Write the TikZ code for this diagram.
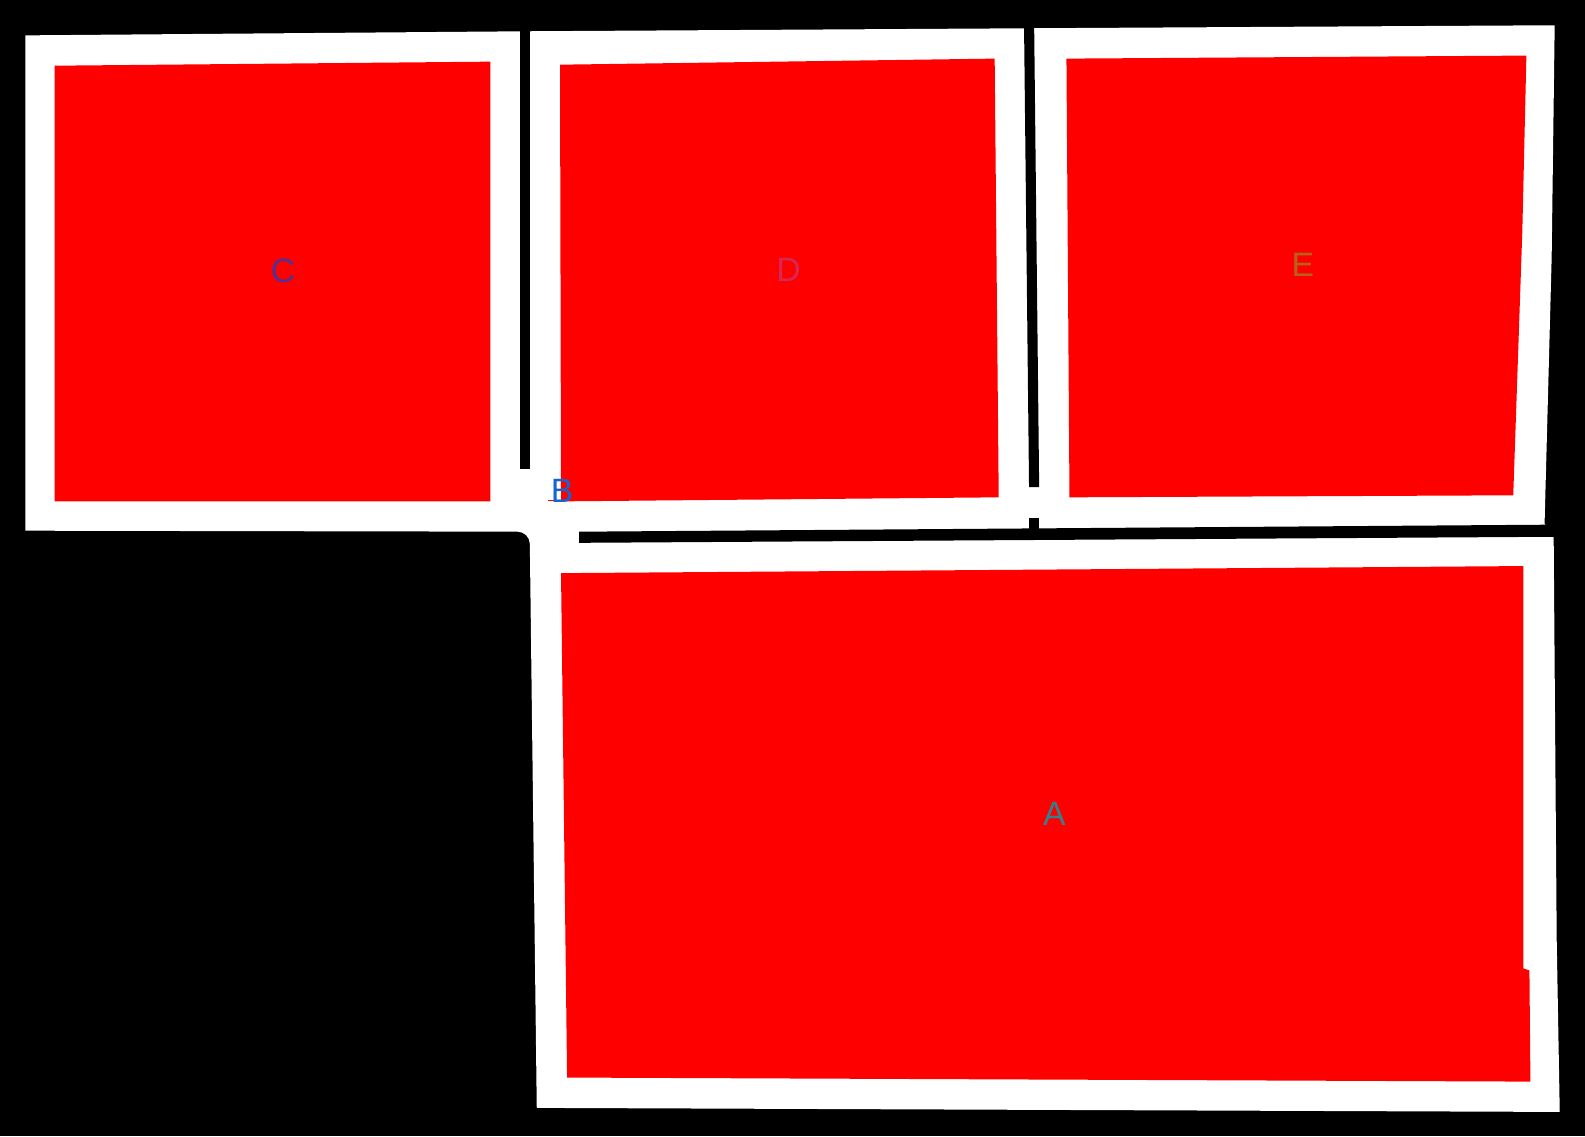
\documentclass[tikz,border=0pt]{standalone}
\usepackage{fontspec}
\setmainfont{Liberation Sans}
\definecolor{redfill}{RGB}{255,0,0}
\definecolor{labC}{RGB}{80,50,150}
\definecolor{labD}{RGB}{215,40,85}
\definecolor{labE}{RGB}{180,100,20}
\definecolor{labA}{RGB}{50,130,140}
\definecolor{labB}{RGB}{20,100,210}
\tikzset{
  room/.style={fill=redfill, draw=none},
  lbl/.style={inner sep=0pt, font=\fontsize{19}{19}\selectfont},
  gap/.style={fill=black, draw=none}
}
\begin{document}
\begin{tikzpicture}[x=0.02cm, y=-0.02cm]
\useasboundingbox (0,0) rectangle (1568,1124);
\fill[black] (0,0) rectangle (1568,1124);
% white band (walls)
\fill[white] (25,35) -- (513,31) -- (1013,28) -- (1538,25) -- (1535,255) -- (1528,518)
  -- (1537,532) -- (1540,930) -- (1543,1100) -- (531,1096)
  [rounded corners=6.8pt] -- (524,526) [sharp corners] -- (25,525) -- cycle;
% black gaps between blocks
\fill[gap] (514,20) rectangle (524,464);
\fill[gap] (1013,20) -- (1023,20) -- (1028,482) -- (1018,482) -- cycle;
\fill[gap] (1018,512) rectangle (1028,523);
\fill[gap] (573,526) -- (1541,519) -- (1541,531) -- (573,537) -- cycle;
% red rooms
\fill[room] (54,65) -- (485,61) -- (485,496) -- (54,496) -- cycle;
\fill[room] (554,64) -- (984,58) -- (988,492) -- (555,496) -- cycle;
\fill[room] (1055,58) -- (1510,55) -- (1506,228) -- (1497,490) -- (1058,492) -- cycle;
\fill[room] (555,567) -- (1507,560) -- (1507,958) -- (1513,960) -- (1514,1070) -- (561,1066) -- cycle;
\fill[room] (542,494.5) rectangle (555,496);
% labels
\node[lbl, text=labC] (C) at (280,268) {C};
\node[lbl, text=labD] (D) at (780,267) {D};
\node[lbl, text=labE] (E) at (1289,262) {E};
\node[lbl, text=labA] (A) at (1043,805) {A};
\node[lbl, text=labB] (B) at (556,486) {B};
\end{tikzpicture}
\end{document}
